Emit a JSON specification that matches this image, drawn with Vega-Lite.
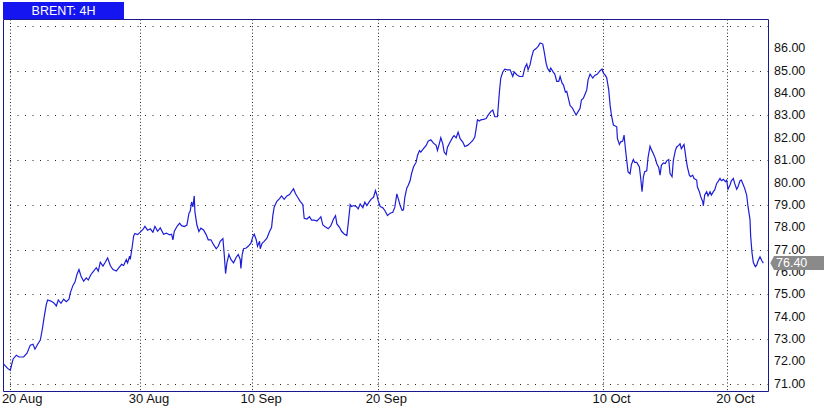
{
  "$schema": "https://vega.github.io/schema/vega-lite/v6.json",
  "background": "white",
  "padding": {"left": 0, "top": 2, "right": 0, "bottom": 0},
  "spacing": 0,
  "bounds": "flush",
  "config": {"font": "Liberation Sans"},
  "datasets": {
    "brent": [
      {"t":-10,"price":71.88},{"t":-4,"price":71.69},{"t":0,"price":71.61},{"t":4,"price":72.10},{"t":9,"price":72.28},{"t":13,"price":72.20},{"t":20,"price":72.20},{"t":25,"price":72.37},{"t":30,"price":72.73},{"t":34,"price":72.77},{"t":37,"price":72.55},{"t":41,"price":72.77},{"t":45,"price":72.96},{"t":48,"price":73.44},{"t":51,"price":74.03},{"t":54,"price":74.55},{"t":56,"price":74.75},{"t":61,"price":74.70},{"t":65,"price":74.63},{"t":69,"price":74.48},{"t":72,"price":74.75},{"t":76,"price":74.60},{"t":80,"price":74.78},{"t":84,"price":74.67},{"t":88,"price":74.78},{"t":90,"price":75.07},{"t":94,"price":75.40},{"t":97,"price":75.55},{"t":100,"price":75.89},{"t":103,"price":76.11},{"t":106,"price":75.82},{"t":110,"price":75.59},{"t":114,"price":75.74},{"t":117,"price":75.64},{"t":121,"price":75.89},{"t":125,"price":76.04},{"t":129,"price":76.19},{"t":132,"price":76.04},{"t":135,"price":76.44},{"t":139,"price":76.26},{"t":142,"price":76.41},{"t":146,"price":76.63},{"t":150,"price":76.29},{"t":154,"price":76.11},{"t":159,"price":76.04},{"t":163,"price":76.19},{"t":167,"price":76.34},{"t":170,"price":76.29},{"t":174,"price":76.56},{"t":176,"price":76.41},{"t":179,"price":76.71},{"t":180,"price":76.56},{"t":183,"price":77.15},{"t":185,"price":77.60},{"t":187,"price":77.72},{"t":191,"price":77.67},{"t":195,"price":77.78},{"t":199,"price":77.90},{"t":202,"price":78.04},{"t":206,"price":77.87},{"t":210,"price":77.93},{"t":214,"price":77.78},{"t":217,"price":78.04},{"t":221,"price":77.82},{"t":225,"price":77.97},{"t":230,"price":77.69},{"t":234,"price":77.74},{"t":239,"price":77.66},{"t":242,"price":77.69},{"t":244,"price":77.44},{"t":246,"price":77.81},{"t":250,"price":78.03},{"t":254,"price":78.18},{"t":257,"price":78.07},{"t":261,"price":78.03},{"t":265,"price":78.10},{"t":268,"price":78.62},{"t":270,"price":78.72},{"t":272,"price":79.13},{"t":274,"price":78.91},{"t":276,"price":79.40},{"t":277,"price":78.69},{"t":280,"price":78.10},{"t":283,"price":77.81},{"t":286,"price":77.96},{"t":290,"price":77.88},{"t":294,"price":77.66},{"t":297,"price":77.44},{"t":301,"price":77.44},{"t":305,"price":77.22},{"t":309,"price":77.04},{"t":312,"price":77.15},{"t":315,"price":77.37},{"t":319,"price":77.49},{"t":321,"price":76.78},{"t":323,"price":75.93},{"t":325,"price":76.41},{"t":328,"price":76.78},{"t":331,"price":76.56},{"t":335,"price":76.41},{"t":339,"price":76.66},{"t":342,"price":76.78},{"t":345,"price":76.56},{"t":346,"price":76.16},{"t":348,"price":76.78},{"t":350,"price":77.04},{"t":354,"price":77.07},{"t":357,"price":77.15},{"t":361,"price":77.29},{"t":364,"price":77.59},{"t":366,"price":77.69},{"t":369,"price":77.44},{"t":371,"price":77.15},{"t":374,"price":77.37},{"t":375,"price":77.04},{"t":378,"price":77.29},{"t":381,"price":77.37},{"t":385,"price":77.51},{"t":389,"price":77.81},{"t":392,"price":77.99},{"t":394,"price":78.54},{"t":396,"price":78.91},{"t":400,"price":79.16},{"t":404,"price":79.28},{"t":407,"price":79.40},{"t":411,"price":79.25},{"t":415,"price":79.40},{"t":419,"price":79.46},{"t":422,"price":79.60},{"t":425,"price":79.72},{"t":428,"price":79.50},{"t":431,"price":79.35},{"t":435,"price":79.16},{"t":439,"price":79.01},{"t":441,"price":78.40},{"t":445,"price":78.37},{"t":449,"price":78.47},{"t":452,"price":78.32},{"t":456,"price":78.32},{"t":460,"price":78.28},{"t":464,"price":78.40},{"t":466,"price":78.47},{"t":469,"price":78.10},{"t":472,"price":78.03},{"t":477,"price":77.93},{"t":481,"price":78.07},{"t":485,"price":78.37},{"t":488,"price":78.52},{"t":490,"price":78.15},{"t":494,"price":78.00},{"t":497,"price":77.82},{"t":501,"price":77.70},{"t":505,"price":77.63},{"t":507,"price":78.15},{"t":510,"price":79.01},{"t":512,"price":78.93},{"t":515,"price":78.97},{"t":519,"price":78.93},{"t":522,"price":78.82},{"t":525,"price":79.04},{"t":529,"price":78.87},{"t":532,"price":79.12},{"t":535,"price":78.97},{"t":539,"price":79.16},{"t":542,"price":79.27},{"t":545,"price":79.34},{"t":548,"price":79.64},{"t":550,"price":79.46},{"t":552,"price":79.19},{"t":555,"price":78.93},{"t":559,"price":78.87},{"t":562,"price":78.75},{"t":566,"price":78.52},{"t":570,"price":78.63},{"t":574,"price":78.67},{"t":577,"price":78.90},{"t":580,"price":79.49},{"t":583,"price":79.19},{"t":585,"price":78.97},{"t":588,"price":78.75},{"t":590,"price":78.78},{"t":592,"price":79.34},{"t":595,"price":79.76},{"t":597,"price":79.87},{"t":600,"price":80.09},{"t":602,"price":80.39},{"t":605,"price":80.69},{"t":609,"price":80.91},{"t":611,"price":81.21},{"t":614,"price":81.43},{"t":616,"price":81.36},{"t":620,"price":81.51},{"t":624,"price":81.66},{"t":627,"price":81.85},{"t":631,"price":81.91},{"t":635,"price":81.76},{"t":639,"price":81.66},{"t":641,"price":81.43},{"t":644,"price":81.76},{"t":646,"price":82.00},{"t":649,"price":81.73},{"t":651,"price":81.36},{"t":654,"price":81.25},{"t":656,"price":81.58},{"t":660,"price":81.81},{"t":664,"price":82.03},{"t":666,"price":82.10},{"t":669,"price":82.00},{"t":672,"price":82.25},{"t":675,"price":81.96},{"t":679,"price":81.81},{"t":682,"price":81.61},{"t":686,"price":81.66},{"t":690,"price":81.76},{"t":694,"price":81.88},{"t":697,"price":82.03},{"t":699,"price":82.40},{"t":701,"price":82.81},{"t":704,"price":82.75},{"t":706,"price":82.80},{"t":710,"price":82.82},{"t":714,"price":82.86},{"t":717,"price":83.01},{"t":721,"price":83.17},{"t":724,"price":83.24},{"t":727,"price":82.94},{"t":731,"price":82.94},{"t":734,"price":84.07},{"t":736,"price":84.67},{"t":739,"price":84.94},{"t":742,"price":85.07},{"t":746,"price":85.04},{"t":750,"price":85.04},{"t":754,"price":84.74},{"t":756,"price":84.94},{"t":760,"price":84.82},{"t":764,"price":84.74},{"t":769,"price":84.74},{"t":772,"price":85.12},{"t":775,"price":85.30},{"t":777,"price":85.04},{"t":780,"price":85.27},{"t":782,"price":85.57},{"t":785,"price":85.90},{"t":789,"price":85.99},{"t":792,"price":86.09},{"t":795,"price":86.24},{"t":799,"price":86.19},{"t":801,"price":85.87},{"t":804,"price":85.34},{"t":806,"price":85.12},{"t":809,"price":84.97},{"t":811,"price":85.12},{"t":814,"price":84.97},{"t":817,"price":84.85},{"t":820,"price":84.52},{"t":823,"price":84.52},{"t":825,"price":84.74},{"t":828,"price":84.44},{"t":830,"price":84.37},{"t":833,"price":84.04},{"t":835,"price":84.07},{"t":838,"price":83.69},{"t":840,"price":83.44},{"t":843,"price":83.35},{"t":845,"price":83.24},{"t":849,"price":83.02},{"t":852,"price":83.17},{"t":855,"price":83.32},{"t":857,"price":83.69},{"t":860,"price":83.77},{"t":863,"price":83.99},{"t":865,"price":84.14},{"t":867,"price":84.59},{"t":870,"price":84.85},{"t":874,"price":84.67},{"t":877,"price":84.79},{"t":881,"price":84.85},{"t":885,"price":85.00},{"t":888,"price":85.07},{"t":890,"price":84.89},{"t":893,"price":84.79},{"t":895,"price":84.67},{"t":898,"price":84.14},{"t":900,"price":83.47},{"t":902,"price":83.02},{"t":905,"price":82.57},{"t":907,"price":82.54},{"t":910,"price":82.49},{"t":911,"price":81.97},{"t":914,"price":81.70},{"t":916,"price":81.82},{"t":919,"price":81.85},{"t":921,"price":82.12},{"t":923,"price":81.52},{"t":925,"price":80.99},{"t":927,"price":80.47},{"t":930,"price":80.39},{"t":932,"price":80.80},{"t":935,"price":81.03},{"t":937,"price":80.90},{"t":940,"price":80.90},{"t":944,"price":80.70},{"t":946,"price":80.18},{"t":948,"price":79.59},{"t":950,"price":80.25},{"t":952,"price":80.48},{"t":955,"price":80.52},{"t":957,"price":81.12},{"t":960,"price":81.62},{"t":962,"price":81.47},{"t":965,"price":81.29},{"t":968,"price":81.07},{"t":970,"price":80.85},{"t":973,"price":80.67},{"t":975,"price":80.33},{"t":977,"price":80.77},{"t":980,"price":80.88},{"t":983,"price":80.85},{"t":985,"price":80.97},{"t":988,"price":81.03},{"t":990,"price":80.40},{"t":993,"price":80.26},{"t":995,"price":81.00},{"t":998,"price":81.44},{"t":1000,"price":81.59},{"t":1003,"price":81.66},{"t":1005,"price":81.73},{"t":1007,"price":81.51},{"t":1010,"price":81.66},{"t":1011,"price":81.70},{"t":1014,"price":81.07},{"t":1016,"price":80.70},{"t":1019,"price":80.33},{"t":1021,"price":80.26},{"t":1024,"price":80.33},{"t":1026,"price":80.18},{"t":1030,"price":80.11},{"t":1031,"price":79.81},{"t":1034,"price":79.59},{"t":1036,"price":79.37},{"t":1039,"price":79.15},{"t":1040,"price":78.96},{"t":1042,"price":79.44},{"t":1045,"price":79.59},{"t":1047,"price":79.40},{"t":1050,"price":79.59},{"t":1052,"price":79.44},{"t":1055,"price":79.59},{"t":1057,"price":79.67},{"t":1060,"price":79.96},{"t":1062,"price":80.04},{"t":1065,"price":80.18},{"t":1067,"price":80.08},{"t":1070,"price":80.14},{"t":1073,"price":80.04},{"t":1075,"price":80.11},{"t":1077,"price":79.70},{"t":1080,"price":79.89},{"t":1082,"price":80.08},{"t":1085,"price":80.18},{"t":1087,"price":79.96},{"t":1090,"price":79.70},{"t":1092,"price":79.81},{"t":1095,"price":80.08},{"t":1097,"price":80.11},{"t":1100,"price":79.89},{"t":1102,"price":79.74},{"t":1105,"price":79.44},{"t":1107,"price":78.93},{"t":1110,"price":78.34},{"t":1111,"price":77.60},{"t":1113,"price":76.86},{"t":1115,"price":76.42},{"t":1118,"price":76.24},{"t":1120,"price":76.30},{"t":1122,"price":76.49},{"t":1125,"price":76.68},{"t":1128,"price":76.49},{"t":1130,"price":76.40}
    ],
    "ylabels": [
      {"v": 71, "lab": "71.00"}, {"v": 72, "lab": "72.00"}, {"v": 73, "lab": "73.00"}, {"v": 74, "lab": "74.00"},
      {"v": 75, "lab": "75.00"}, {"v": 76, "lab": "76.00"}, {"v": 77, "lab": "77.00"}, {"v": 78, "lab": "78.00"},
      {"v": 79, "lab": "79.00"}, {"v": 80, "lab": "80.00"}, {"v": 81, "lab": "81.00"}, {"v": 82, "lab": "82.00"},
      {"v": 83, "lab": "83.00"}, {"v": 84, "lab": "84.00"}, {"v": 85, "lab": "85.00"}, {"v": 86, "lab": "86.00"}
    ],
    "last": [{"t": 1137, "price": 76.40, "label": "76.40"}],
    "header": [{"name": "BRENT: 4H"}]
  },
  "vconcat": [
    {
      "width": 121,
      "height": 17,
      "view": {"fill": "#1515f2", "stroke": null},
      "data": {"name": "header"},
      "mark": {"type": "text", "color": "white", "fontSize": 12.5, "font": "Liberation Sans", "align": "center", "baseline": "middle"},
      "encoding": {"text": {"field": "name", "type": "nominal"}}
    },
    {
      "width": 765,
      "height": 372,
      "view": {"stroke": "#1a1a8e", "strokeWidth": 1},
      "layer": [
        {
          "data": {"name": "brent"},
          "mark": {"type": "line", "color": "#1c1cd9", "strokeWidth": 1.2, "clip": true, "interpolate": "linear"},
          "encoding": {
            "x": {
              "field": "t", "type": "quantitative",
              "scale": {"domain": [-11, 1137], "nice": false, "zero": false},
              "axis": {
                "title": null,
                "values": [0, 195, 363, 551, 889, 1075],
                "labelExpr": "datum.value == 0 ? '20 Aug' : datum.value == 195 ? '30 Aug' : datum.value == 363 ? '10 Sep' : datum.value == 551 ? '20 Sep' : datum.value == 889 ? '10 Oct' : '20 Oct'",
                "domain": false,
                "ticks": false,
                "grid": true,
                "gridColor": "#222222",
                "gridDash": [1, 2.3],
                "gridWidth": 1,
                "labelFont": "Liberation Sans",
                "labelFontSize": 13,
                "labelColor": "#111111",
                "labelPadding": 1,
                "labelOffset": {"condition": {"test": "datum.value == 0", "value": 11.3}, "value": 8.3},
                "labelAlign": "center",
                "labelOverlap": false,
                "labelBound": false,
                "labelFlush": false
              }
            },
            "y": {
              "field": "price", "type": "quantitative",
              "scale": {"domain": [70.68, 87.31], "nice": false, "zero": false},
              "axis": {
                "orient": "right",
                "title": null,
                "values": [71, 72, 73, 74, 75, 76, 77, 78, 79, 80, 81, 82, 83, 84, 85, 86, 87],
                "labels": false,
                "domain": false,
                "ticks": false,
                "grid": true,
                "gridColor": "#222222",
                "gridDash": [1, 6.5],
                "gridWidth": 1
              }
            }
          }
        },
        {
          "data": {"name": "ylabels"},
          "mark": {"type": "text", "color": "#111111", "fontSize": 12.5, "font": "Liberation Sans", "align": "left", "baseline": "middle", "dx": 6},
          "encoding": {
            "x": {"datum": 1137, "type": "quantitative"},
            "y": {"field": "v", "type": "quantitative"},
            "text": {"field": "lab", "type": "nominal"}
          }
        },
        {
          "data": {"name": "last"},
          "mark": {"type": "point", "filled": true, "color": "#8a8a8a", "opacity": 1, "size": 400, "shape": "M0.23,0 L0.6,-0.7 L5.6,-0.7 L5.6,0.7 L0.6,0.7 Z", "strokeWidth": 0},
          "encoding": {
            "x": {"field": "t", "type": "quantitative"},
            "y": {"field": "price", "type": "quantitative"}
          }
        },
        {
          "data": {"name": "last"},
          "mark": {"type": "text", "color": "white", "fontSize": 12.5, "font": "Liberation Sans", "align": "left", "baseline": "middle", "dx": 8},
          "encoding": {
            "x": {"field": "t", "type": "quantitative"},
            "y": {"field": "price", "type": "quantitative"},
            "text": {"field": "label", "type": "nominal"}
          }
        }
      ]
    }
  ]
}
